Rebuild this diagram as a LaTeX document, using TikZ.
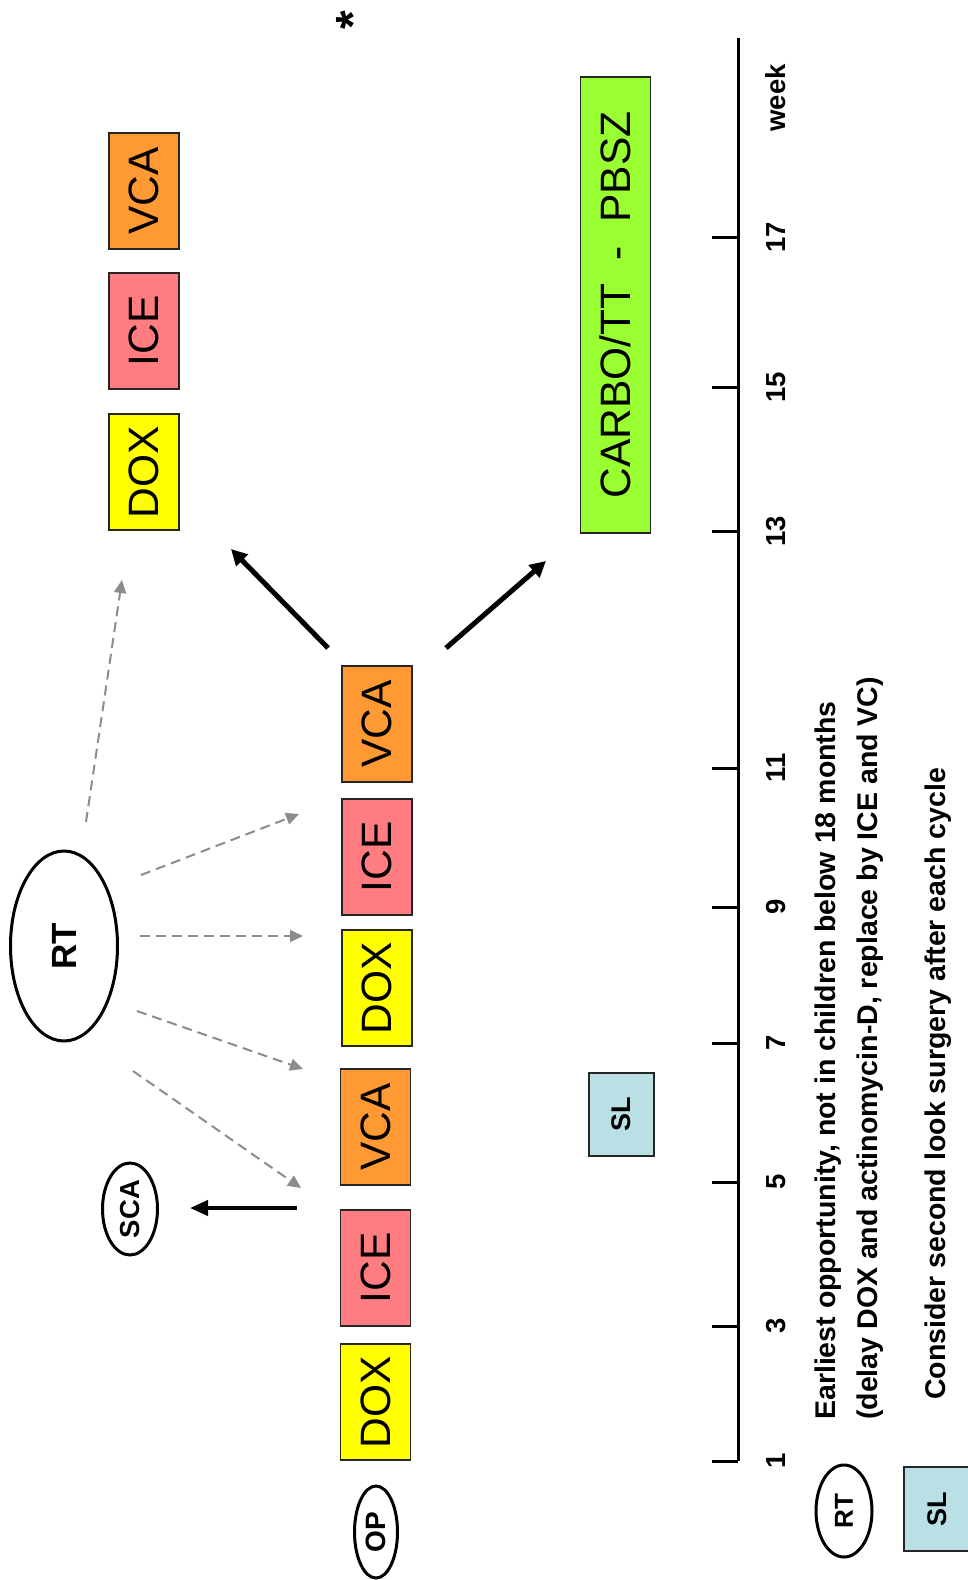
\documentclass[tikz,border=0pt]{standalone}
\usepackage{fontspec}
\setmainfont{Liberation Sans}
\usetikzlibrary{arrows.meta,shapes.geometric}
\definecolor{cdox}{HTML}{FFFF00}
\definecolor{cice}{HTML}{FF7C80}
\definecolor{cvca}{HTML}{FF9933}
\definecolor{cgreen}{HTML}{99FF33}
\definecolor{csl}{HTML}{B9E0E4}
\definecolor{cdash}{HTML}{8C8C8C}
\newcommand\fsz[1]{\fontsize{#1}{#1}\selectfont}
\begin{document}
\begin{tikzpicture}[x=1pt,y=-1pt,
  drug/.style={draw=black!85, line width=1.5pt, rotate=90, minimum width=116pt, minimum height=70pt, inner sep=0pt, font=\fsz{42.5}},
  dox/.style={drug, fill=cdox},
  ice/.style={drug, fill=cice},
  vca/.style={drug, fill=cvca},
  slbox/.style={draw=black!85, line width=1.5pt, fill=csl, rotate=90, minimum width=84pt, minimum height=66pt, inner sep=0pt, font=\bfseries\fsz{27}},
  oval/.style={ellipse, draw, line width=3pt, rotate=90, inner sep=0pt, font=\bfseries\fsz{28}},
  ticklab/.style={rotate=90, font=\bfseries\fsz{27.5}},
  legtxt/.style={rotate=90, anchor=west, inner sep=0pt, font=\bfseries\fsz{28.5}},
  bigarrow/.style={line width=5pt, -{Triangle[length=16pt,width=16pt]}},
  rtarrow/.style={cdash, line width=2pt, dash pattern=on 10pt off 6pt, -{Triangle[length=13pt,width=12pt]}},
]
\useasboundingbox (0,0) rectangle (968,1580);

% first block
\node[dox] (dox1) at (375.5,1402) {DOX};
\node[ice] (ice1) at (375.5,1268) {ICE};
\node[vca] (vca1) at (375.5,1127) {VCA};
% second block
\node[dox] (dox2) at (377,988) {DOX};
\node[ice] (ice2) at (377,857) {ICE};
\node[vca] (vca2) at (377,724) {VCA};
% third block
\node[dox] (dox3) at (144,472) {DOX};
\node[ice] (ice3) at (144,331) {ICE};
\node[vca] (vca3) at (144,191) {VCA};
% green box
\node[drug, fill=cgreen, minimum width=456pt] (carbo) at (615.5,305) {CARBO/TT\ \ -\ \ PBSZ};
\node[rotate=90, font=\bfseries\fsz{48}] (star) at (353,20) {*};

% SL
\node[slbox, minimum width=83pt, minimum height=65pt] (sl) at (621.5,1114.5) {SL};

% ovals
\node[oval, minimum width=190pt, minimum height=107pt, font=\bfseries\fsz{35}] (rt) at (64,946) {RT};
\node[oval, minimum width=92pt, minimum height=55pt, font=\bfseries\fsz{27.5}] (sca) at (130,1209) {SCA};
\node[oval, minimum width=92pt, minimum height=43pt] (op) at (376,1532) {OP};

% arrows
\coordinate (scaS) at (297,1208);
\coordinate (scaE) at (190,1208);
\draw[line width=4pt, -{Triangle[length=18pt,width=15pt]}] (scaS) -- (scaE);

\coordinate (bl1) at (328,648);
\coordinate (bl2) at (231,549);
\coordinate (br1) at (446,648);
\coordinate (br2) at (546,561);
\draw[bigarrow] (bl1) -- (bl2);
\draw[bigarrow] (br1) -- (br2);

\coordinate (d1s) at (141,875);
\coordinate (d1e) at (299,814);
\coordinate (d2s) at (140,936);
\coordinate (d2e) at (303,936);
\coordinate (d3s) at (137,1011);
\coordinate (d3e) at (303,1069);
\coordinate (d4s) at (133,1071);
\coordinate (d4e) at (301,1188);
\coordinate (d5s) at (86,822);
\coordinate (d5e) at (122,580);
\draw[rtarrow] (d1s) -- (d1e);
\draw[rtarrow] (d2s) -- (d2e);
\draw[rtarrow] (d3s) -- (d3e);
\draw[rtarrow] (d4s) -- (d4e);
\draw[rtarrow] (d5s) -- (d5e);

% axis
\coordinate (axtop) at (738,38);
\coordinate (axbot) at (738,1461);
\draw[line width=3pt] (axtop) -- (axbot);
\foreach \w/\y in {1/1461,3/1326,5/1182,7/1043,9/907,11/768,13/531,15/387,17/237}{
  \draw[line width=3pt] (712,\y) -- (738,\y);
  \node[ticklab] (t\w) at (776,\y) {\w};
}
\node[ticklab] (week) at (776,98) {week};

% legend
\node[oval, minimum width=92pt, minimum height=56pt, font=\bfseries\fsz{26}] (rtleg) at (844,1511) {RT};
\node[slbox] (slleg) at (937,1509) {SL};
\node[legtxt] (l1) at (828,1420) {Earliest opportunity, not in children below 18 months};
\node[legtxt] (l2) at (870,1420) {(delay DOX and actinomycin-D, replace by ICE and VC)};
\node[legtxt] (l3) at (938,1400) {Consider second look surgery after each cycle};
\end{tikzpicture}
\end{document}
